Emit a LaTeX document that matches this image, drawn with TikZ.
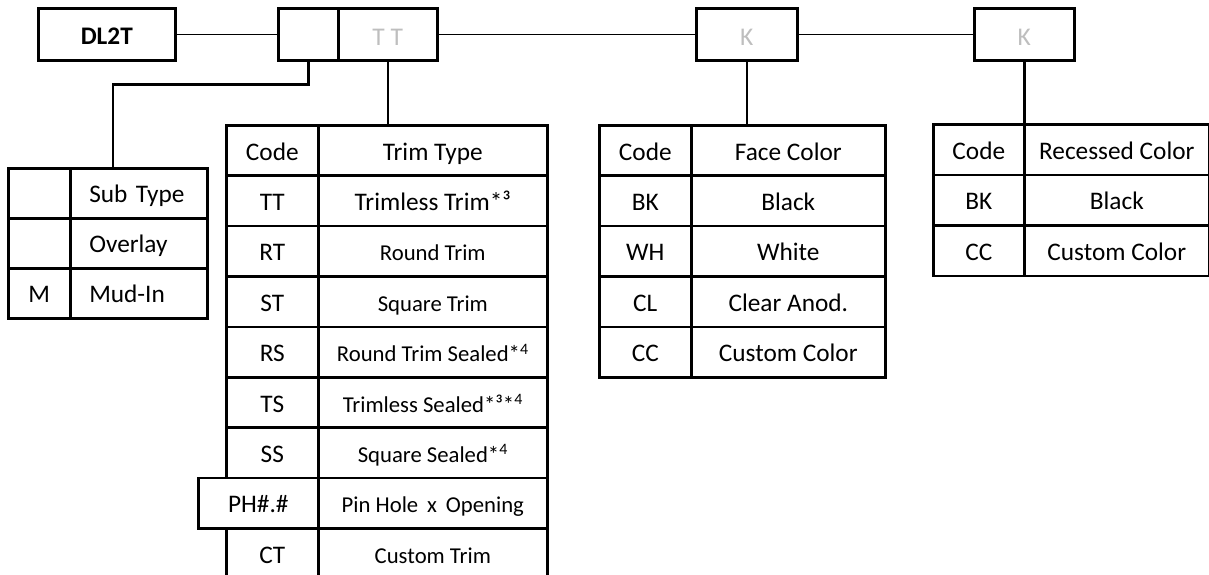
\documentclass[tikz,border=0pt]{standalone}
\usepackage{fontspec}
\setmainfont{Carlito}
\newcommand{\bigtxt}{\fontsize{25.3}{28}\selectfont}
\newcommand{\smalltxt}{\fontsize{22.7}{26}\selectfont}
\newcommand{\greytxt}{\fontsize{25.5}{28}\selectfont}
\definecolor{codegrey}{RGB}{190,190,190}
\begin{document}
\begin{tikzpicture}[x=1pt,y=-1pt,
  cell/.style={draw, line width=2.6pt, inner sep=0pt, anchor=north west,
    minimum height=50.4pt, text height=20pt, text depth=1pt, font=\bigtxt},
  small/.style={font=\smalltxt},
  topbox/.style={draw, line width=2.6pt, inner sep=0pt, anchor=north west,
    minimum height=52pt, text height=21pt, text depth=0pt},
  greytext/.style={text=codegrey, font=\greytxt, text height=23pt},
  thinlink/.style={line width=1.4pt},
  link/.style={line width=2.6pt},
]
\useasboundingbox (0,0) rectangle (1209,575);

% top row
\node[topbox, minimum width=137pt, font=\bigtxt\bfseries] (dl) at (37,7) {DL2T};
\node[topbox, minimum width=60pt] (sub) at (277,7) {};
\node[topbox, minimum width=99pt, greytext] (tt) at (337,7) {T T};
\node[topbox, minimum width=101pt, greytext] (k1) at (695,7) {K};
\node[topbox, minimum width=100pt, greytext] (k2) at (973,7) {K};

% sub type table
\node[cell, minimum width=62pt, minimum height=50pt] (s0a) at (7,167) {};
\node[cell, minimum width=137pt, minimum height=50pt, align=left, text width=99pt, inner xsep=19pt] (s0b) at (69,167) {Sub Type};
\node[cell, minimum width=62pt, minimum height=50pt] (s1a) at (7,217) {};
\node[cell, minimum width=137pt, minimum height=50pt, align=left, text width=99pt, inner xsep=19pt] (s1b) at (69,217) {Overlay};
\node[cell, minimum width=62pt, minimum height=50pt] (s2a) at (7,267) {M};
\node[cell, minimum width=137pt, minimum height=50pt, align=left, text width=99pt, inner xsep=19pt] (s2b) at (69,267) {Mud-In};

% trim type table
\node[cell, minimum width=92pt] (t0a) at (225,124) {Code};
\node[cell, minimum width=229pt] (t0b) at (317,124) {Trim Type};
\node[cell, minimum width=92pt] (t1a) at (225,174.4) {TT};
\node[cell, minimum width=229pt] (t1b) at (317,174.4) {Trimless Trim*³};
\node[cell, minimum width=92pt] (t2a) at (225,224.8) {RT};
\node[cell, minimum width=229pt, small] (t2b) at (317,224.8) {Round Trim};
\node[cell, minimum width=92pt] (t3a) at (225,275.2) {ST};
\node[cell, minimum width=229pt, small] (t3b) at (317,275.2) {Square Trim};
\node[cell, minimum width=92pt] (t4a) at (225,325.6) {RS};
\node[cell, minimum width=229pt, small] (t4b) at (317,325.6) {Round Trim Sealed*\textsuperscript{4}};
\node[cell, minimum width=92pt] (t5a) at (225,376) {TS};
\node[cell, minimum width=229pt, small] (t5b) at (317,376) {Trimless Sealed*³*\textsuperscript{4}};
\node[cell, minimum width=92pt] (t6a) at (225,426.4) {SS};
\node[cell, minimum width=229pt, small] (t6b) at (317,426.4) {Square Sealed*\textsuperscript{4}};
\node[cell, minimum width=120pt] (t7a) at (197,476.8) {PH\#.\#};
\node[cell, minimum width=229pt, small] (t7b) at (317,476.8) {Pin Hole\, x\, Opening};
\node[cell, minimum width=92pt] (t8a) at (225,527.2) {CT};
\node[cell, minimum width=229pt, small] (t8b) at (317,527.2) {Custom Trim};

% face color table
\node[cell, minimum width=92pt] (f0a) at (598,124) {Code};
\node[cell, minimum width=194pt] (f0b) at (690,124) {Face Color};
\node[cell, minimum width=92pt] (f1a) at (598,174.4) {BK};
\node[cell, minimum width=194pt] (f1b) at (690,174.4) {Black};
\node[cell, minimum width=92pt] (f2a) at (598,224.8) {WH};
\node[cell, minimum width=194pt] (f2b) at (690,224.8) {White};
\node[cell, minimum width=92pt] (f3a) at (598,275.2) {CL};
\node[cell, minimum width=194pt] (f3b) at (690,275.2) {Clear Anod.};
\node[cell, minimum width=92pt] (f4a) at (598,325.6) {CC};
\node[cell, minimum width=194pt] (f4b) at (690,325.6) {Custom Color};

% recessed color table
\node[cell, minimum width=91pt, minimum height=50.5pt] (r0a) at (932,123) {Code};
\node[cell, minimum width=185pt, minimum height=50.5pt] (r0b) at (1023,123) {Recessed Color};
\node[cell, minimum width=91pt, minimum height=50.5pt] (r1a) at (932,173.5) {BK};
\node[cell, minimum width=185pt, minimum height=50.5pt] (r1b) at (1023,173.5) {Black};
\node[cell, minimum width=91pt, minimum height=50.5pt] (r2a) at (932,224) {CC};
\node[cell, minimum width=185pt, minimum height=50.5pt] (r2b) at (1023,224) {Custom Color};

% connectors
\draw[thinlink] (dl.east) -- (sub.west);
\draw[thinlink] (tt.east) -- (k1.west);
\draw[thinlink] (k1.east) -- (k2.west);
\coordinate (subin) at (113,167);
\draw[link] (sub.south) -- ++(0,23) -| (subin);
\draw[link] (tt.south) -- (tt.south |- t0b.north);
\draw[link] (k1.south) -- (k1.south |- f0b.north);
\draw[link] (k2.south) -- (k2.south |- r0b.north);
\end{tikzpicture}
\end{document}
